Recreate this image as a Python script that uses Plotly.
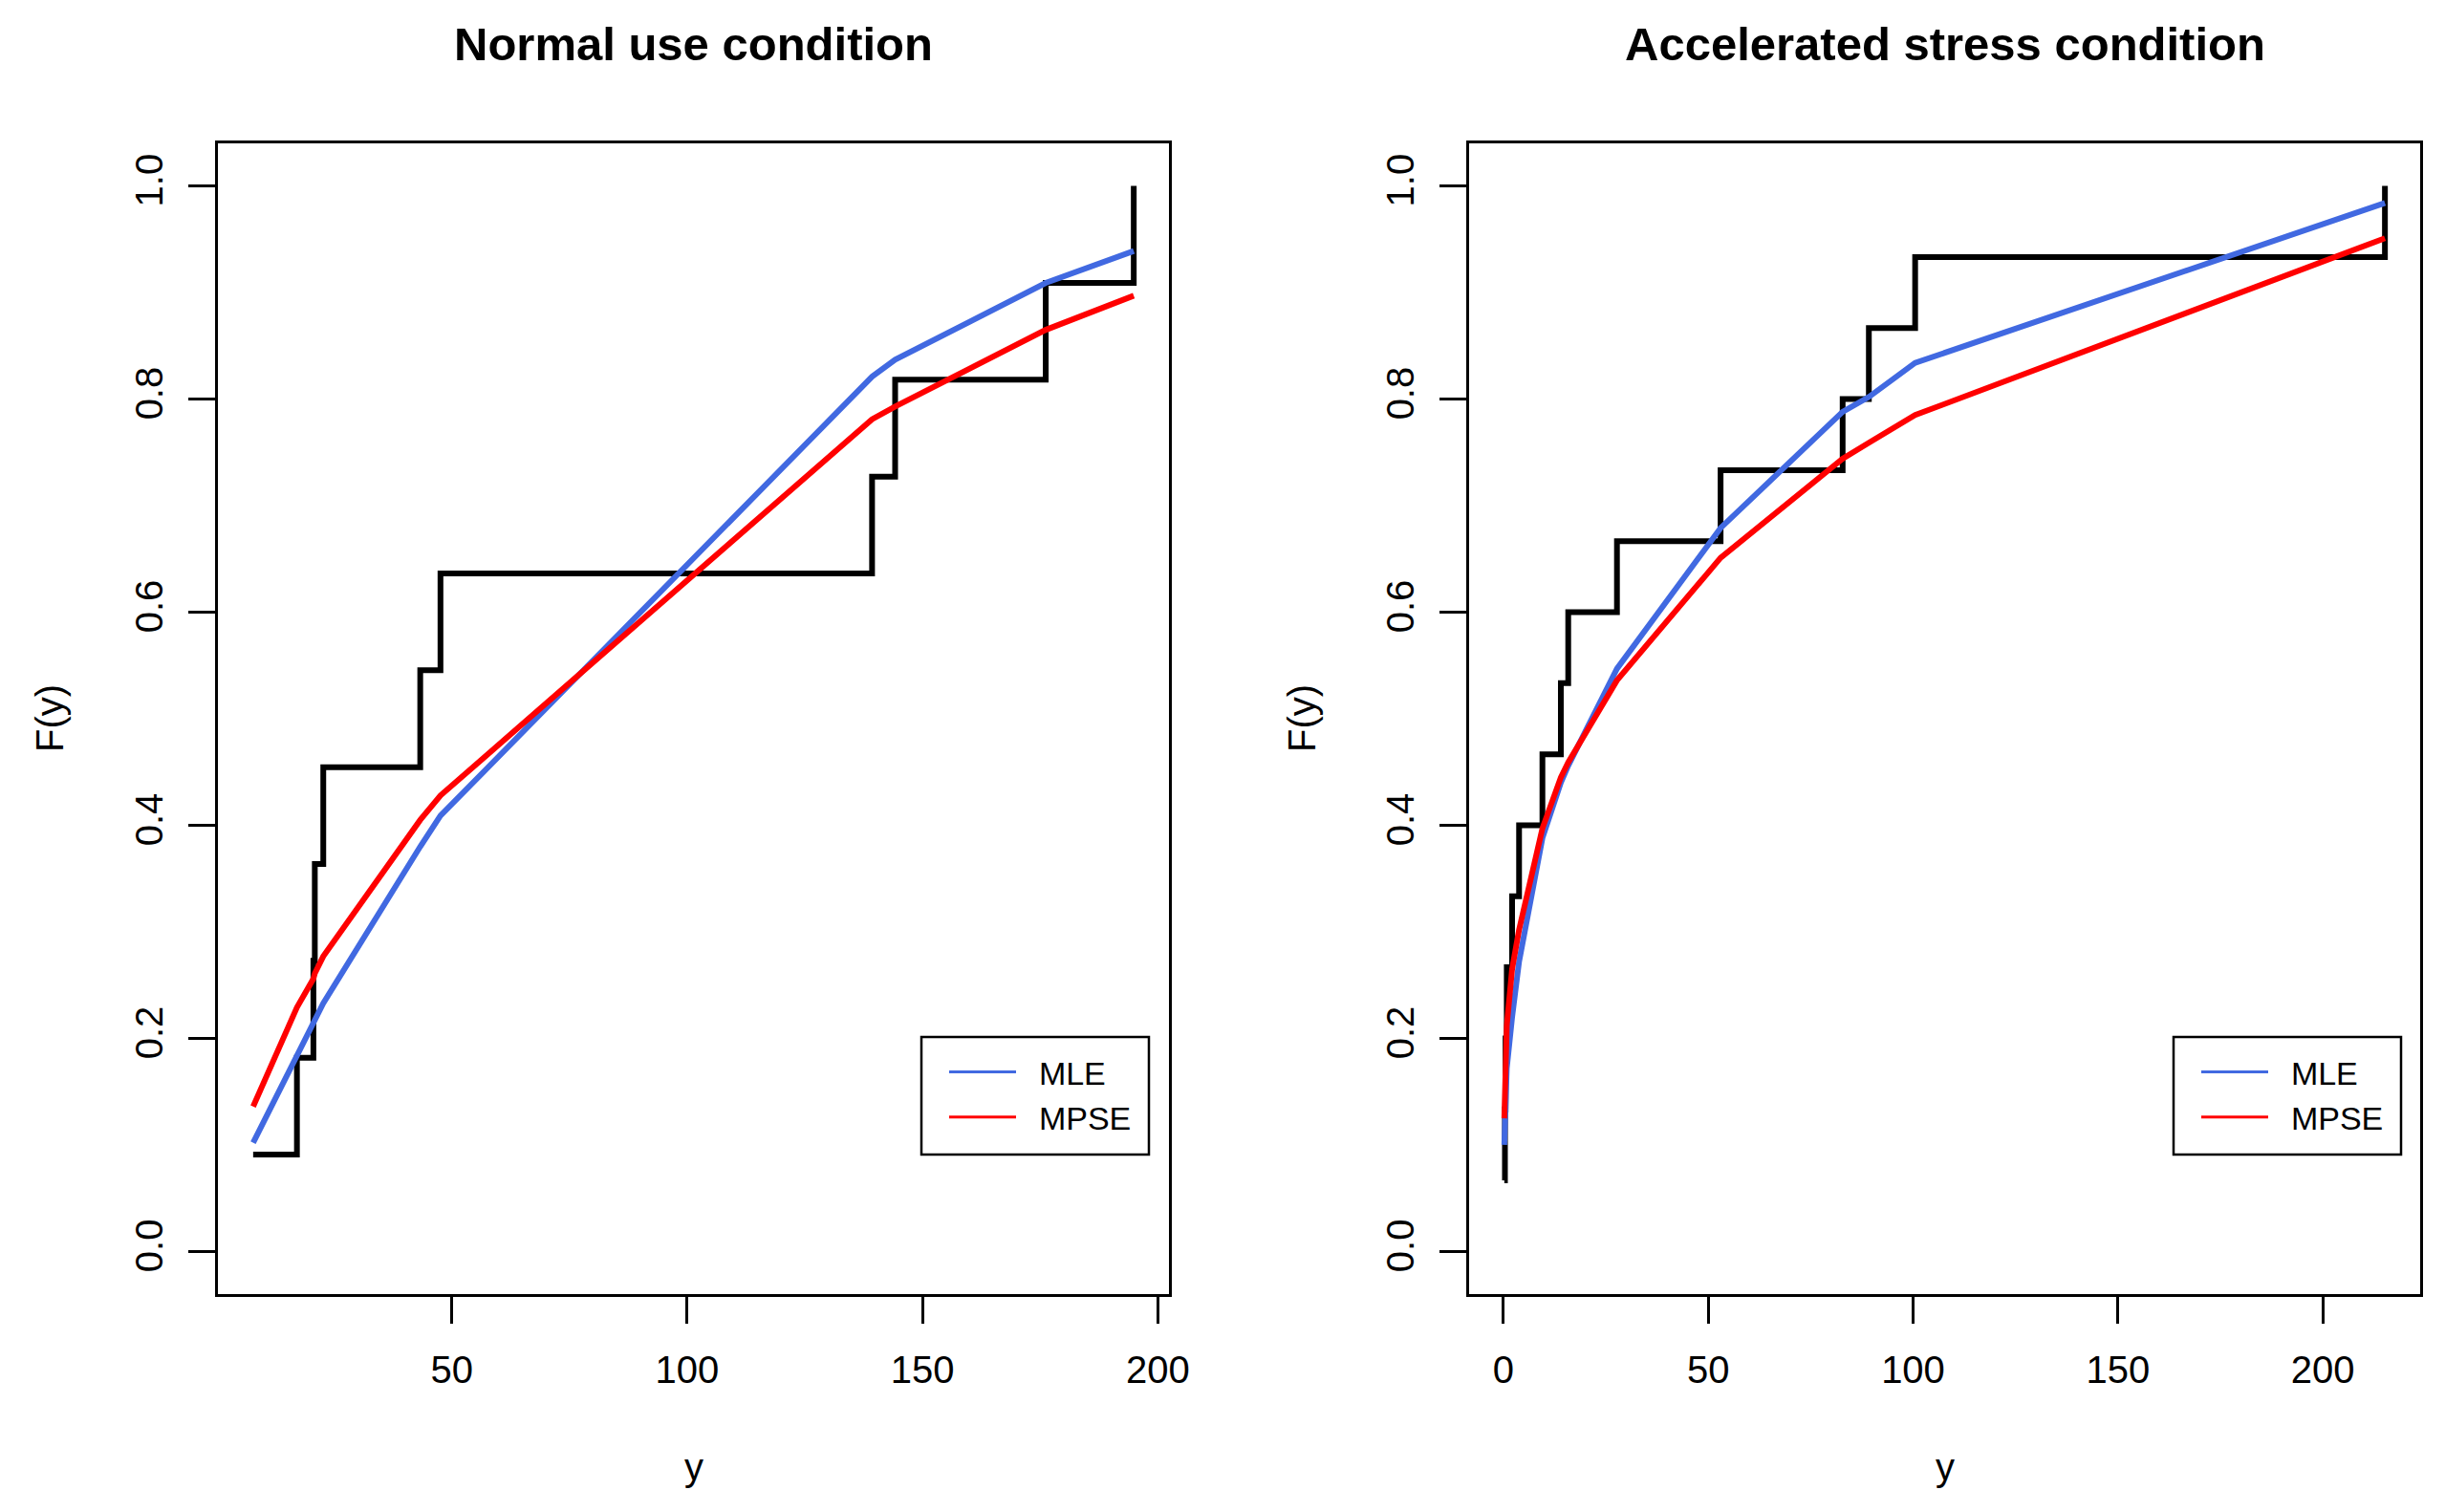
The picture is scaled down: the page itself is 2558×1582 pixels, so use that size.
import numpy as np
import plotly.graph_objects as go

# ---------------- data ----------------
titles = ["Normal use condition", "Accelerated stress condition"]

# sorted observations (ECDF jump points) and fitted CDF values at them
y_normal = [7.8, 17.1, 20.6, 20.9, 22.7, 43.3, 47.6, 139.3, 144.2, 176.2, 194.9]
mle_normal = [0.102, 0.183, 0.212, 0.217, 0.233, 0.380, 0.409, 0.821, 0.837, 0.909, 0.939]
mpse_normal = [0.136, 0.229, 0.256, 0.261, 0.277, 0.405, 0.428, 0.781, 0.793, 0.865, 0.897]

y_acc = [0.2, 0.35, 0.5, 0.8, 2.1, 3.8, 9.5, 14.0, 15.8, 27.7, 53.0, 82.8, 89.2, 100.5, 215.2]
mle_acc = [0.100, 0.125, 0.148, 0.172, 0.220, 0.272, 0.388, 0.440, 0.456, 0.547, 0.679, 0.788, 0.802, 0.834, 0.984]
mpse_acc = [0.125, 0.155, 0.185, 0.212, 0.265, 0.302, 0.397, 0.445, 0.459, 0.536, 0.651, 0.744, 0.759, 0.785, 0.951]

x_ticks_normal = [50, 100, 150, 200]
x_ticks_acc = [0, 50, 100, 150, 200]
y_ticks = [0.0, 0.2, 0.4, 0.6, 0.8, 1.0]

series_names = ["MLE", "MPSE"]
series_colors = ["#4169E1", "#FF0000"]

# ---------------- layout constants ----------------
W, H = 2558, 1582
FONT = "Liberation Sans, Arial, Helvetica, sans-serif"
px_l = [228, 1223]
px_r = [1537, 2532]
py = [150, 1354]
NBSP = "\u00a0"


def xd(p):
    return [p[0] / W, p[1] / W]


def pad(vals):
    lo, hi = min(vals), max(vals)
    r = hi - lo
    return [lo - 0.04 * r, hi + 0.04 * r]


fig = go.Figure()

panels = [
    (y_normal, mle_normal, mpse_normal, "x", "y", "legend"),
    (y_acc, mle_acc, mpse_acc, "x2", "y2", "legend2"),
]

for xs, mle, mpse, xa, ya, lg in panels:
    n = len(xs)
    ecdf = np.arange(1, n + 1) / n
    fig.add_trace(go.Scatter(x=xs, y=ecdf, mode="lines", line=dict(color="black", width=6, shape="hv"),
                             xaxis=xa, yaxis=ya, showlegend=False, hoverinfo="skip", name="Empirical"))
    for vals, name, col in zip([mle, mpse], series_names, series_colors):
        fig.add_trace(go.Scatter(x=xs, y=vals, mode="lines", line=dict(color=col, width=6),
                                 xaxis=xa, yaxis=ya, showlegend=False, name=name))
    # legend entries with thin sample lines
    for name, col in zip(series_names, series_colors):
        fig.add_trace(go.Scatter(x=[None], y=[None], mode="lines", line=dict(color=col, width=3),
                                 xaxis=xa, yaxis=ya, name=NBSP * 2 + name, showlegend=True, legend=lg))

axis_common = dict(showgrid=False, zeroline=False, showline=True, mirror=True, linecolor="black",
                   linewidth=2.5, ticks="outside", ticklen=28, tickwidth=2.5, tickcolor="black",
                   automargin=False, tickfont=dict(family=FONT, size=40, color="black"))

fig.update_layout(
    width=W, height=H,
    margin=dict(l=0, r=0, t=0, b=0),
    paper_bgcolor="white", plot_bgcolor="white",
    font=dict(family=FONT, color="black"),
    xaxis=dict(domain=xd(px_l), range=pad(y_normal), tickvals=x_ticks_normal, anchor="y",
               ticklabelstandoff=14, **axis_common),
    yaxis=dict(domain=[1 - py[1] / H, 1 - py[0] / H], range=[-0.04, 1.04], tickvals=y_ticks,
               tickformat=".1f", tickangle=-90, anchor="x", ticklabelstandoff=11, **axis_common),
    xaxis2=dict(domain=xd(px_r), range=pad(y_acc), tickvals=x_ticks_acc, anchor="y2",
                ticklabelstandoff=14, **axis_common),
    yaxis2=dict(domain=[1 - py[1] / H, 1 - py[0] / H], range=[-0.04, 1.04], tickvals=y_ticks,
                tickformat=".1f", tickangle=-90, anchor="x2", ticklabelstandoff=11, **axis_common),
)

leg_common = dict(yanchor="top", xanchor="left", borderwidth=0,
                  bgcolor="rgba(0,0,0,0)", font=dict(family=FONT, size=34, color="black"),
                  tracegroupgap=0, itemwidth=70)
fig.update_layout(
    legend=dict(x=988 / W, y=1 - 1093 / H, **leg_common),
    legend2=dict(x=(988 + 1310) / W, y=1 - 1093 / H, **leg_common),
)

# legend boxes
shapes = []
for off in [0, 1310]:
    shapes.append(dict(type="rect", xref="paper", yref="paper",
                       x0=(964 + off) / W, x1=(1202 + off) / W, y0=1 - 1208 / H, y1=1 - 1085 / H,
                       line=dict(color="black", width=2.5), fillcolor="rgba(0,0,0,0)", layer="above"))
fig.update_layout(shapes=shapes)

annotations = []
for (p, title) in zip([px_l, px_r], titles):
    cx = (p[0] + p[1]) / 2 / W
    annotations.append(dict(text="<b>%s</b>" % title, x=cx, y=1 - 46 / H, xref="paper", yref="paper",
                            showarrow=False, xanchor="center", yanchor="middle",
                            font=dict(family=FONT, size=49, color="black")))
    annotations.append(dict(text="y", x=cx, y=1 - 1535 / H, xref="paper", yref="paper",
                            showarrow=False, xanchor="center", yanchor="middle",
                            font=dict(family=FONT, size=40, color="black")))
for fx in [52, 1362]:
    annotations.append(dict(text="F(y)", x=fx / W, y=1 - 752 / H, xref="paper", yref="paper",
                            showarrow=False, xanchor="center", yanchor="middle", textangle=-90,
                            font=dict(family=FONT, size=40, color="black")))
fig.update_layout(annotations=annotations)

post = (
    "document.body.style.margin='0px';"
    "document.body.style.overflow='hidden';"
    "document.documentElement.style.overflow='hidden';"
)
fig.write_html("out.html", config={"displayModeBar": False}, post_script=post)
